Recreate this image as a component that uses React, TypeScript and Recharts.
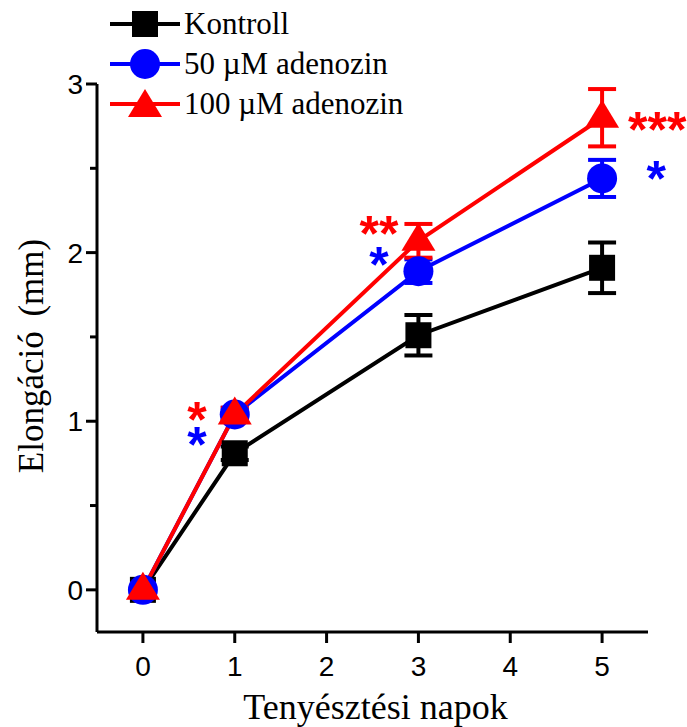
import {
  LineChart,
  Line,
  XAxis,
  YAxis,
  ErrorBar,
  Legend,
  Label,
  ReferenceDot,
} from 'recharts';

const days = [0, 1, 3, 5];
const kontroll = [0, 0.81, 1.51, 1.91];
const kontrollErr = [0, 0.04, 0.12, 0.15];
const adenozin50 = [0, 1.04, 1.89, 2.44];
const adenozin50Err = [0, 0.04, 0.07, 0.11];
const adenozin100 = [0, 1.04, 2.07, 2.8];
const adenozin100Err = [0, 0.04, 0.1, 0.17];

const xTicks = [0, 1, 2, 3, 4, 5];
const yTicks = [0, 0.5, 1, 1.5, 2, 2.5, 3];

const RED = '#ff0000';
const BLUE = '#0000ff';
const BLACK = '#000000';

// significance marks, in data coordinates
const stars = [
  { x: 0.59, y: 1.08, text: '*', color: RED },
  { x: 0.59, y: 0.93, text: '*', color: BLUE },
  { x: 2.57, y: 2.18, text: '**', color: RED },
  { x: 2.57, y: 2.0, text: '*', color: BLUE },
  { x: 5.6, y: 2.8, text: '***', color: RED },
  { x: 5.59, y: 2.51, text: '*', color: BLUE },
];

type Shape = 'square' | 'circle' | 'triangle';

const series: { key: string; name: string; color: string; shape: Shape }[] = [
  { key: 'kontroll', name: 'Kontroll', color: BLACK, shape: 'square' },
  { key: 'a50', name: '50 µM adenozin', color: BLUE, shape: 'circle' },
  { key: 'a100', name: '100 µM adenozin', color: RED, shape: 'triangle' },
];

const data = days.map((day, i) => ({
  day,
  kontroll: kontroll[i],
  kontrollErr: kontrollErr[i],
  a50: adenozin50[i],
  a50Err: adenozin50Err[i],
  a100: adenozin100[i],
  a100Err: adenozin100Err[i],
}));

const serif = '"Liberation Serif", "Times New Roman", serif';
const sans = '"Liberation Sans", Arial, sans-serif';

function marker(shape: Shape, cx: number, cy: number, color: string, key?: string) {
  if (shape === 'square') {
    return <rect key={key} x={cx - 13} y={cy - 13} width={26} height={26} fill={color} />;
  }
  if (shape === 'circle') {
    return <circle key={key} cx={cx} cy={cy} r={15} fill={color} />;
  }
  return (
    <polygon
      key={key}
      points={`${cx},${cy - 18} ${cx - 17},${cy + 10} ${cx + 17},${cy + 10}`}
      fill={color}
    />
  );
}

const YTick = (props: any) => {
  const { x, y, payload } = props;
  const major = Number.isInteger(payload.value);
  return (
    <g>
      <line x1={x - (major ? 11 : 7)} x2={x} y1={y} y2={y} stroke={BLACK} strokeWidth={3} />
      {major && (
        <text x={x - 14} y={y + 10} textAnchor="end" fontFamily={sans} fontSize={28} fill={BLACK}>
          {payload.value}
        </text>
      )}
    </g>
  );
};

const XTick = (props: any) => {
  const { x, y, payload } = props;
  return (
    <g>
      <line x1={x} x2={x} y1={y} y2={y + 11} stroke={BLACK} strokeWidth={3} />
      <text x={x} y={y + 44} textAnchor="middle" fontFamily={sans} fontSize={28} fill={BLACK}>
        {payload.value}
      </text>
    </g>
  );
};

const LegendBox = () => (
  <svg width={450} height={125}>
    {series.map((s, i) => {
      const cy = 24 + i * 40;
      return (
        <g key={s.key}>
          <line x1={110} x2={180} y1={cy} y2={cy} stroke={s.color} strokeWidth={4} />
          {marker(s.shape, 145, cy + (s.shape === 'triangle' ? 3 : 0), s.color)}
          <text x={184} y={cy + 10} fontFamily={serif} fontSize={31} fill={BLACK}>
            {s.name}
          </text>
        </g>
      );
    })}
  </svg>
);

export default function App() {
  return (
    <div style={{ position: 'absolute', left: 0, top: 0, width: 687, height: 727, background: '#fff' }}>
      <LineChart
        width={687}
        height={727}
        data={data}
        margin={{ top: 84, right: 39, left: 37, bottom: 35 }}
      >
        <XAxis
          dataKey="day"
          type="number"
          domain={[-0.5, 5.5]}
          ticks={xTicks}
          allowDataOverflow
          height={60}
          tickSize={0}
          tickMargin={0}
          tick={<XTick />}
          axisLine={{ stroke: BLACK, strokeWidth: 3 }}
        >
          <Label
            content={(p: any) => {
              const vb = p.viewBox;
              return (
                <text
                  x={vb.x + vb.width / 2 + 3}
                  y={719}
                  textAnchor="middle"
                  fontFamily={serif}
                  fontSize={36}
                  fill={BLACK}
                >
                  Tenyésztési napok
                </text>
              );
            }}
          />
        </XAxis>
        <YAxis
          type="number"
          domain={[-0.25, 3]}
          ticks={yTicks}
          allowDataOverflow
          width={60}
          tickSize={0}
          tickMargin={0}
          tick={<YTick />}
          axisLine={{ stroke: BLACK, strokeWidth: 3 }}
        >
          <Label
            content={(p: any) => {
              const vb = p.viewBox;
              const cx = 31;
              const cy = vb.y + vb.height / 2 - 2;
              return (
                <text
                  x={cx}
                  y={cy}
                  transform={`rotate(-90 ${cx} ${cy})`}
                  textAnchor="middle"
                  dominantBaseline="central"
                  fontFamily={serif}
                  fontSize={35}
                  wordSpacing={6}
                  fill={BLACK}
                >
                  Elongáció (mm)
                </text>
              );
            }}
          />
        </YAxis>
        <Legend
          layout="vertical"
          align="center"
          verticalAlign="middle"
          wrapperStyle={{ left: 0, top: 0, width: 450, height: 125 }}
          content={() => <LegendBox />}
        />
        {series.map((s) => (
          <Line
            key={s.key}
            dataKey={s.key}
            name={s.name}
            stroke={s.color}
            strokeWidth={4}
            isAnimationActive={false}
            dot={(p: any) => marker(s.shape, p.cx, p.cy, s.color, `${s.key}-${p.index}`)}
            activeDot={false}
          >
            <ErrorBar dataKey={`${s.key}Err`} width={14} stroke={s.color} strokeWidth={4} isAnimationActive={false} />
          </Line>
        ))}
        {stars.map((st, i) => (
          <ReferenceDot
            key={i}
            x={st.x}
            y={st.y}
            r={0}
            ifOverflow="visible"
            shape={(p: any) => (
              <text
                x={p.cx}
                y={p.cy + 29}
                textAnchor="middle"
                fontFamily={sans}
                fontWeight="bold"
                fontSize={50}
                fill={st.color}
              >
                {st.text}
              </text>
            )}
          />
        ))}
      </LineChart>
    </div>
  );
}
